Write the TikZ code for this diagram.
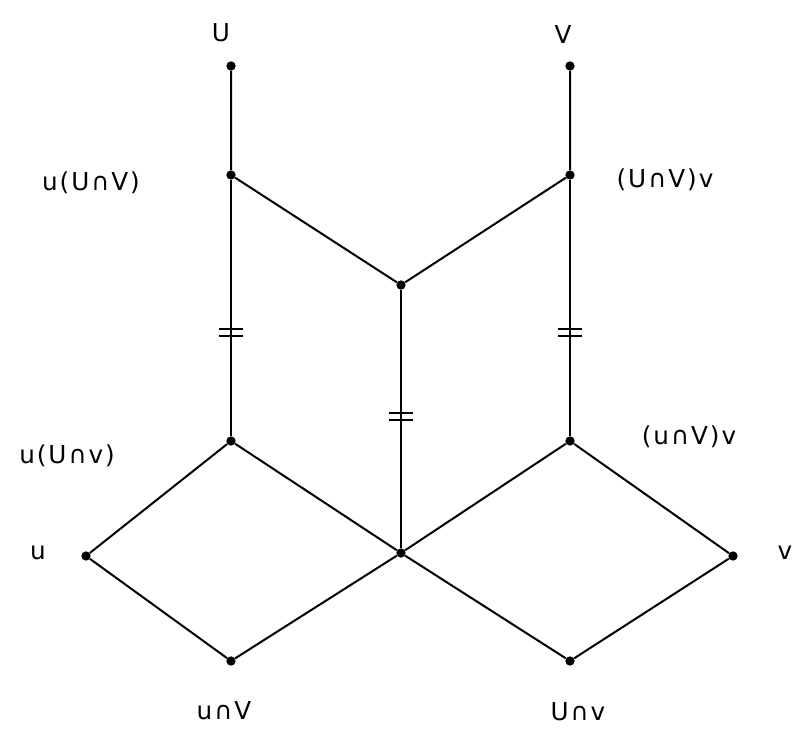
\documentclass[tikz,border=0pt]{standalone}
\usepackage{fontspec}
\newfontfamily\lblfont[LetterSpace=8]{DejaVu Sans}
\usetikzlibrary{calc}

\tikzset{
  dot/.style={circle, fill=black, inner sep=0pt, minimum size=7pt},
  lbl/.style={font=\lblfont\fontsize{18.5}{22}\selectfont, inner sep=0pt},
  edge/.style={line width=1.5pt},
}

\begin{document}
\begin{tikzpicture}[x=0.75pt, y=-0.75pt]
\useasboundingbox (0,0) rectangle (795,731);

% points of the butterfly
\node[dot] (U) at (231,66) {};
\node[dot] (V) at (570,66) {};
\node[dot] (uUV) at (231,175) {};
\node[dot] (UVv) at (570,175) {};
\node[dot] (mid) at (401,285) {};
\node[dot] (uUv) at (231,441) {};
\node[dot] (uVv) at (570,441) {};
\node[dot] (u) at (86,556) {};
\node[dot] (c) at (401,553) {};
\node[dot] (v) at (733,556) {};
\node[dot] (uV) at (231,661) {};
\node[dot] (Uv) at (570,661) {};

% labels
\node[lbl] (lU) at (221,33) {U};
\node[lbl] (lV) at (563,35) {V};
\node[lbl] (luUV) at (91,183) {u(U∩V)};
\node[lbl] (lUVv) at (665,180) {(U∩V)v};
\node[lbl] (luUv) at (67,456) {u(U∩v)};
\node[lbl] (luVv) at (689,437) {(u∩V)v};
\node[lbl] (lu) at (38,553) {u};
\node[lbl] (lv) at (785,553) {v};
\node[lbl] (luV) at (224,711) {u∩V};
\node[lbl] (lUv) at (578,712) {U∩v};

% upper part
\draw[edge] (U) -- (uUV) -- (mid) -- (UVv) -- (V);
\draw[edge] (uUV) -- coordinate[pos=0.594] (e1) (uUv);
\draw[edge] (UVv) -- coordinate[pos=0.594] (e2) (uVv);
\draw[edge] (mid) -- coordinate[pos=0.49] (e3) (c);

% the two diamonds
\draw[edge] (uUv) -- (u) -- (uV) -- (c) -- (uUv);
\draw[edge] (uVv) -- (c) -- (Uv) -- (v) -- (uVv);

% equality marks
\foreach \e in {e1,e2,e3} {
  \draw[line width=1.4pt] ($(\e)+(-12,-3.5)$) -- ++(24,0);
  \draw[line width=1.4pt] ($(\e)+(-12,3.5)$) -- ++(24,0);
}
\end{tikzpicture}
\end{document}
